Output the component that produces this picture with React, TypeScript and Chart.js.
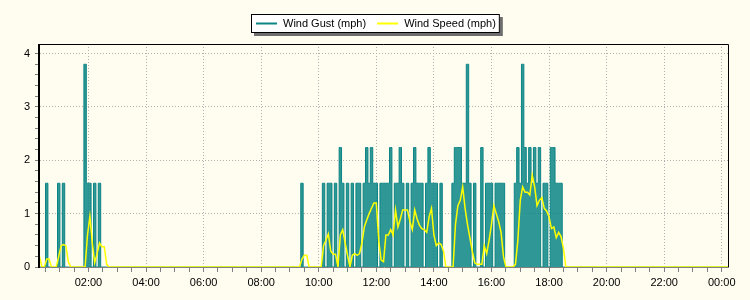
import React, { useEffect, useRef } from "react";
import { Chart, registerables } from "chart.js";

Chart.register(...registerables);

const FONT_FAMILY = "'Liberation Sans', Arial, sans-serif";
const GUST_COLOR = "#0b8585";
const GUST_FILL = "rgba(11,133,133,0.85)";
const SPEED_COLOR = "#ffff00";
const BG = "#fffcf0";

const seriesLabels = ["Wind Gust (mph)", "Wind Speed (mph)"];

// x axis in minutes since midnight
const xMinMinutes = 19;
const xMaxMinutes = 1453;
const xMajorMinutes = [120, 240, 360, 480, 600, 720, 840, 960, 1080, 1200, 1320, 1440];
const xLabels = ["02:00", "04:00", "06:00", "08:00", "10:00", "12:00", "14:00", "16:00", "18:00", "20:00", "22:00", "00:00"];
const xMinorStep = 30;

const yMajor = [0, 1, 2, 3, 4];
const yLabels = ["0", "1", "2", "3", "4"];
const yMinorStep = 0.2;
const yMax = 4.18;

// samples every 5 minutes
const sampleStep = 5;
const startNight = 18; // 00:18
const startDay = 560; // 09:20
const endMinutes = 1453;

const gustNight = [
  0, 0, 0, 1.57, 0, 0, 0, 0, 1.57, 0,
  1.57, 0, 0, 0, 0, 0, 0, 0, 0, 3.8,
  1.57, 1.57, 0, 1.57, 0, 1.57, 0, 0, 0, 0,
];
const speedNight = [
  0.2, 0, 0, 0.15, 0.15, 0, 0, 0, 0.2, 0.4,
  0.42, 0.4, 0.1, 0, 0, 0, 0, 0, 0, 0,
  0.6, 0.95, 0.45, 0.08, 0.25, 0.45, 0.38, 0.38, 0.05, 0,
];

const gustDay = [
  0, 1.57, 0, 0, 0, 0, 0, 0, 0, 0,
  1.57, 0, 1.57, 1.57, 0, 1.57, 0, 2.24, 1.57, 0,
  1.57, 0, 1.57, 0, 1.57, 1.57, 0, 1.57, 2.24, 1.57,
  2.24, 1.57, 1.57, 0, 1.57, 1.57, 1.57, 1.57, 2.24, 0,
  1.57, 1.57, 2.24, 1.57, 0, 1.57, 0, 1.57, 2.24, 1.57,
  1.57, 1.57, 0, 1.57, 2.24, 1.57, 1.57, 1.57, 0, 1.57,
  0, 0, 0, 0, 1.57, 2.24, 2.24, 2.24, 1.57, 1.57,
  3.8, 1.57, 0, 1.57, 0, 0, 2.24, 0, 1.57, 1.57,
  1.57, 0, 1.57, 1.57, 1.57, 1.57, 0, 0, 0, 0,
  1.57, 2.24, 1.57, 3.8, 2.24, 1.57, 2.24, 1.57, 2.24, 1.57,
  2.24, 0, 1.57, 1.57, 0, 2.24, 2.24, 1.57, 1.57, 1.57,
  0, 0,
];
const speedDay = [
  0, 0.15, 0.22, 0.22, 0, 0, 0, 0, 0, 0,
  0.4, 0.5, 0.62, 0.3, 0.24, 0.24, 0, 0.6, 0.7, 0.45,
  0.22, 0, 0.22, 0.25, 0.22, 0.25, 0.45, 0.75, 0.88, 1.0,
  1.1, 1.2, 1.2, 0.5, 0.13, 0.1, 0.6, 0.6, 0.7, 0.6,
  1.07, 0.75, 0.9, 1.07, 1.07, 1.07, 0.85, 0.7, 1.07, 0.9,
  0.78, 0.72, 0.7, 0.65, 0.94, 1.1, 0.6, 0.4, 0.45, 0.42,
  0.3, 0, 0, 0, 0, 0.8, 1.15, 1.25, 1.5, 1.1,
  0.8, 0.55, 0.3, 0.08, 0.05, 0.05, 0.05, 0.4, 0.25, 0.5,
  0.8, 1.15, 1.0, 0.85, 0.65, 0.2, 0, 0, 0, 0,
  0.05, 0.5, 1.25, 1.5, 1.4, 1.4, 1.35, 1.72, 1.5, 1.15,
  1.25, 1.3, 1.1, 1.05, 0.94, 0.72, 0.75, 0.55, 0.65, 0.57,
  0.35, 0,
];

function toPoints(start: number, values: number[]) {
  return values.map((v, i) => ({ x: start + i * sampleStep, y: v }));
}

function buildSeries(night: number[], day: number[]) {
  return [
    ...toPoints(startNight, night),
    ...toPoints(startDay, day),
    { x: endMinutes, y: 0 },
  ];
}

const framePlugin = {
  id: "frameAndLegend",
  beforeDraw(chart: any) {
    const { ctx, width, height } = chart;
    ctx.save();
    ctx.fillStyle = BG;
    ctx.fillRect(0, 0, width, height);
    ctx.restore();
  },
  afterDatasetsDraw(chart: any) {
    const { ctx, chartArea: a } = chart;
    ctx.save();
    ctx.strokeStyle = "#000";
    ctx.lineWidth = 2;
    ctx.beginPath();
    ctx.moveTo(a.left - 1, a.top);
    ctx.lineTo(a.left - 1, a.bottom + 1);
    ctx.stroke();
    ctx.lineWidth = 1;
    ctx.beginPath();
    ctx.moveTo(a.left - 2, a.top + 0.5);
    ctx.lineTo(a.right + 0.5, a.top + 0.5);
    ctx.lineTo(a.right + 0.5, a.bottom);
    ctx.stroke();
    ctx.restore();
  },
  afterDraw(chart: any) {
    const { ctx } = chart;
    ctx.save();
    ctx.font = `11px ${FONT_FAMILY}`;
    const colors = [GUST_COLOR, SPEED_COLOR];
    const widths = seriesLabels.map((t) => ctx.measureText(t).width);
    const lineLen = 21;
    const gapLT = 6;
    const gapItems = 11;
    const padL = 5;
    const padR = 4;
    const boxW = padL + widths.reduce((s, w) => s + lineLen + gapLT + w, 0) + gapItems * (seriesLabels.length - 1) + padR;
    const boxH = 19;
    const boxX = Math.round(chart.width / 2 - boxW / 2);
    const boxY = 14;
    ctx.fillStyle = "#6e6e6e";
    ctx.fillRect(boxX + 3, boxY + 3, boxW, boxH);
    ctx.fillStyle = "#ffffff";
    ctx.fillRect(boxX, boxY, boxW, boxH);
    ctx.strokeStyle = "#000";
    ctx.lineWidth = 1;
    ctx.strokeRect(boxX + 0.5, boxY + 0.5, boxW - 1, boxH - 1);
    let x = boxX + padL;
    seriesLabels.forEach((label, i) => {
      ctx.strokeStyle = colors[i];
      ctx.lineWidth = 2;
      ctx.beginPath();
      ctx.moveTo(x, boxY + 9.5);
      ctx.lineTo(x + lineLen, boxY + 9.5);
      ctx.stroke();
      x += lineLen + gapLT;
      ctx.fillStyle = "#000";
      ctx.textBaseline = "alphabetic";
      ctx.fillText(label, x, boxY + 13);
      x += widths[i] + gapItems;
    });
    ctx.restore();
  },
};

export default function App() {
  const canvasRef = useRef<HTMLCanvasElement | null>(null);

  useEffect(() => {
    document.body.style.margin = "0";
    const canvas = canvasRef.current;
    if (!canvas) return;
    const tickFont = { family: FONT_FAMILY, size: 11 };
    const gridColor = (ctx: any) => (ctx.tick && ctx.tick.major ? "#b0b0b0" : "rgba(0,0,0,0)");

    const chart = new Chart(canvas, {
      type: "line",
      data: {
        datasets: [
          {
            label: seriesLabels[1],
            data: buildSeries(speedNight, speedDay),
            borderColor: SPEED_COLOR,
            borderWidth: 1.5,
            pointRadius: 0,
            fill: false,
            order: 0,
          },
          {
            label: seriesLabels[0],
            data: buildSeries(gustNight, gustDay),
            borderColor: GUST_COLOR,
            backgroundColor: GUST_FILL,
            borderWidth: 1,
            pointRadius: 0,
            stepped: "middle",
            fill: "origin",
            order: 1,
          },
        ],
      },
      options: {
        animation: false,
        responsive: false,
        maintainAspectRatio: false,
        layout: { padding: { top: 44, right: 22, left: 0, bottom: 0 } },
        plugins: { legend: { display: false }, tooltip: { enabled: false } },
        elements: { line: { tension: 0 }, point: { radius: 0 } },
        scales: {
          x: {
            type: "linear",
            min: xMinMinutes,
            max: xMaxMinutes,
            afterBuildTicks: (scale: any) => {
              const ticks = [];
              for (let m = xMinorStep; m <= xMaxMinutes; m += xMinorStep) {
                ticks.push({ value: m, major: xMajorMinutes.includes(m) });
              }
              scale.ticks = ticks;
            },
            afterFit: (scale: any) => {
              scale.height = 33;
            },
            ticks: {
              autoSkip: false,
              maxRotation: 0,
              minRotation: 0,
              padding: 4,
              color: "#000",
              font: tickFont,
              callback: (value: any) => {
                const idx = xMajorMinutes.indexOf(Number(value));
                return idx >= 0 ? xLabels[idx] : "";
              },
            },
            grid: {
              color: gridColor,
              tickColor: "#808080",
              tickLength: 5,
              drawTicks: true,
              lineWidth: 1,
            },
            border: { display: true, color: "#808080", width: 1, dash: [1, 2] },
          },
          y: {
            type: "linear",
            min: 0,
            max: yMax,
            afterBuildTicks: (scale: any) => {
              const ticks = [];
              const n = Math.round(yMajor[yMajor.length - 1] / yMinorStep);
              for (let i = 0; i <= n; i++) {
                const v = Math.round(i * yMinorStep * 100) / 100;
                ticks.push({ value: v, major: yMajor.includes(v) });
              }
              scale.ticks = ticks;
            },
            afterFit: (scale: any) => {
              scale.width = 40;
            },
            ticks: {
              autoSkip: false,
              padding: 5,
              color: "#000",
              font: tickFont,
              callback: (value: any) => {
                const idx = yMajor.indexOf(Number(value));
                return idx >= 0 ? yLabels[idx] : "";
              },
            },
            grid: {
              color: gridColor,
              tickColor: "#808080",
              tickLength: 5,
              drawTicks: true,
              lineWidth: 1,
            },
            border: { display: false, dash: [1, 2] },
          },
        },
      },
      plugins: [framePlugin],
    } as any);

    return () => chart.destroy();
  }, []);

  return (
    <div style={{ width: 750, height: 300, position: "relative" }}>
      <canvas ref={canvasRef} width={750} height={300} style={{ display: "block" }} />
    </div>
  );
}
